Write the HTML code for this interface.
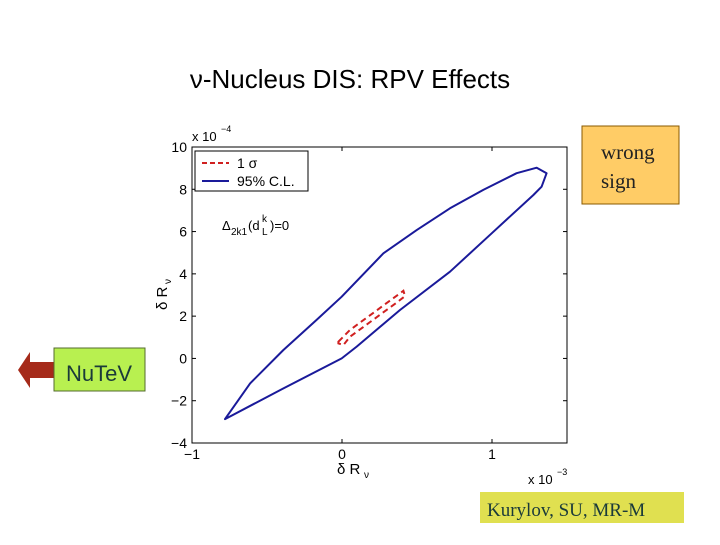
<!DOCTYPE html>
<html><head><meta charset="utf-8"><style>
body{margin:0;width:720px;height:540px;background:#fff;overflow:hidden;font-family:"Liberation Sans",sans-serif}
</style></head><body>
<svg width="720" height="540" xmlns="http://www.w3.org/2000/svg">
<text x="350" y="88" text-anchor="middle" font-size="26" font-family="Liberation Sans, sans-serif" fill="#000">ν-Nucleus DIS: RPV Effects</text>
<g id="chart"></g>
<rect x="582" y="126" width="97" height="78" fill="#FFCC66" stroke="#8a5a00" stroke-width="1"/>
<text x="601" y="159" font-family="Liberation Serif, serif" font-size="21" fill="#222">wrong</text>
<text x="601" y="188" font-family="Liberation Serif, serif" font-size="21" fill="#222">sign</text>
<polygon points="18,370 30,352 30,362 56,362 56,378 30,378 30,388" fill="#A52A1A"/>
<rect x="54" y="348" width="91" height="43" fill="#B8F050" stroke="#556b2f" stroke-width="1"/>
<text x="99" y="381" text-anchor="middle" font-size="22" fill="#1a3a3a">NuTeV</text>
<rect x="480" y="492" width="204" height="31" fill="#E0E050"/>
<text x="487" y="516" font-family="Liberation Serif, serif" font-size="19" fill="#1a3a3a">Kurylov, SU, MR-M</text>
</svg>
<script>
const xTicks=[-1,0,1];
const yTicks=[-4,-2,0,2,4,6,8,10];
const outerX=[-0.78,-0.613,-0.391,-0.169,-0.002,0.276,0.498,0.72,0.942,1.164,1.298,1.364,1.331,1.276,0.998,0.72,0.387,0.098,-0.002,-0.4,-0.78];
const outerY=[-2.87,-1.18,0.40,1.82,2.92,4.97,6.07,7.10,7.97,8.76,9.02,8.76,8.12,7.73,5.92,4.10,2.29,0.56,0.0,-1.45,-2.87];
const sigX=[-0.024,0.052,0.409,0.42,0.376,0.052,0.009,-0.024];
const sigY=[0.79,1.34,3.20,2.95,2.70,1.02,0.63,0.71];
const L=192,R=567,T=147,B=443,xmin=-1,xmax=1.5,ymin=-4,ymax=10;
const sx=v=>L+(v-xmin)/(xmax-xmin)*(R-L);
const sy=v=>B-(v-ymin)/(ymax-ymin)*(B-T);
const NS='http://www.w3.org/2000/svg';
const g=document.getElementById('chart');
function mk(t,a,txt){const e=document.createElementNS(NS,t);for(const k in a)e.setAttribute(k,a[k]);if(txt!==undefined)e.textContent=txt;g.appendChild(e);return e;}
let e=mk('rect',{x:L,y:T,width:R-L,height:B-T,fill:'#fff',stroke:'#000','stroke-width':1});


xTicks.forEach(v=>{const x=sx(v);
 let t=mk('line',{x1:x,y1:B,x2:x,y2:B-4,stroke:'#000'});
 t=mk('line',{x1:x,y1:T,x2:x,y2:T+4,stroke:'#000'});
 t=mk('text',{x:x,y:B+16,'text-anchor':'middle','font-size':14},v===-1?'−1':String(v));});
yTicks.forEach(v=>{const y=sy(v);
 let t=mk('line',{x1:L,y1:y,x2:L+4,y2:y,stroke:'#000'});
 t=mk('line',{x1:R,y1:y,x2:R-4,y2:y,stroke:'#000'});
 t=mk('text',{x:L-5,y:y+5,'text-anchor':'end','font-size':14},v<0?'−'+(-v):String(v));});
e=mk('text',{x:192,y:141,'font-size':13},'x 10');
e=mk('text',{x:221,y:132,'font-size':9},'−4');
e=mk('text',{x:528,y:484,'font-size':13},'x 10');
e=mk('text',{x:557,y:475,'font-size':9},'−3');
e=mk('text',{x:337,y:474,'font-size':15},'δ R');
e=mk('text',{x:364,y:478,'font-size':10},'ν');
e=mk('text',{x:0,y:0,'font-size':15,transform:'translate(167,310) rotate(-90)'},'δ R');
e=mk('text',{x:0,y:0,'font-size':10,transform:'translate(171,284) rotate(-90)'},'ν');
const path=(X,Y)=>X.map((v,i)=>(i?'L':'M')+sx(v).toFixed(1)+','+sy(Y[i]).toFixed(1)).join('')+'Z';
e=mk('path',{d:path(outerX,outerY),fill:'none',stroke:'#1a1a9a','stroke-width':2,'stroke-linejoin':'round'});

e=mk('path',{d:path(sigX,sigY),fill:'none',stroke:'#d02020','stroke-width':2,'stroke-dasharray':'6,4'});

e=mk('rect',{x:195,y:151,width:113,height:40,fill:'#fff',stroke:'#000'});
e=mk('line',{x1:202,y1:163,x2:229,y2:163,stroke:'#d02020','stroke-width':2,'stroke-dasharray':'5,3'});
e=mk('text',{x:237,y:168,'font-size':14},'1 σ');
e=mk('line',{x1:202,y1:181,x2:229,y2:181,stroke:'#1a1a9a','stroke-width':2});
e=mk('text',{x:237,y:186,'font-size':14},'95% C.L.');
e=mk('text',{x:222,y:230,'font-size':13},'Δ');
e=mk('text',{x:231,y:235,'font-size':10},'2k1');
e=mk('text',{x:248,y:230,'font-size':13},'(d');
e=mk('text',{x:262,y:222,'font-size':10},'k');
e=mk('text',{x:262,y:235,'font-size':10},'L');
e=mk('text',{x:270,y:230,'font-size':13},')=0');
</script>
</body></html>
